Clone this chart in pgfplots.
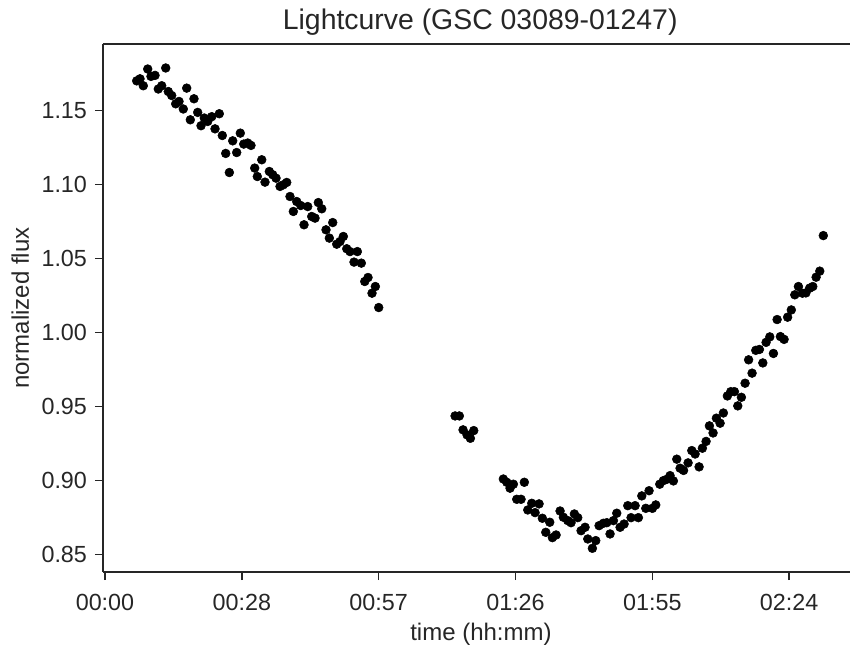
\documentclass[border=0pt]{standalone}
\usepackage{pgfplots}
\pgfplotsset{compat=1.18}
\usepackage{fontspec}
\setmainfont{Liberation Sans}
\definecolor{ink}{gray}{0.15}
\begin{document}
\begin{tikzpicture}
\begin{axis}[
  name=ax,
  scale only axis,
  width=560.25pt, height=396pt,
  xmin=-0.42, xmax=156.8,
  ymin=0.8383, ymax=1.1949,
  axis x line*=bottom, axis y line*=left,
  axis line style={-, line width=1.4pt, color=ink},
  tick style={line width=1.1pt, color=ink},
  tick align=outside, major tick length=6pt,
  xtick={0,28.8,57.6,86.4,115.2,144},
  xticklabels={00:00,00:28,00:57,01:26,01:55,02:24},
  ytick={0.85,0.90,0.95,1.00,1.05,1.10,1.15},
  yticklabel style={/pgf/number format/fixed,/pgf/number format/fixed zerofill,/pgf/number format/precision=2, xshift=-2.5pt},
  xticklabel style={yshift=-7pt},
  /pgf/number format/assume math mode=true,
  ticklabel style={font=\fontsize{17.5}{20}\selectfont, text=ink},
  xlabel={time (hh:mm)}, ylabel={normalized flux},
  label style={font=\fontsize{18}{21}\selectfont, text=ink},
  xlabel style={at={(axis description cs:0.506,0)}, anchor=base, yshift=-51pt},
  ylabel style={at={(axis description cs:-0.1108,0.5)}, anchor=center},
  title={Lightcurve (GSC 03089-01247)},
  title style={font=\fontsize{21.3}{24}\selectfont, text=ink, at={(axis description cs:0.505,1)}, anchor=base, yshift=4.5pt},
  clip=false,
]
\addplot[only marks, mark=*, mark size=3.3pt, color=black] table {
x y
6.67 1.1700
7.37 1.1714
8.06 1.1667
8.99 1.1780
9.68 1.1730
10.53 1.1737
11.22 1.1645
11.94 1.1667
12.78 1.1787
13.32 1.1628
14.04 1.1601
14.88 1.1545
15.58 1.1561
16.48 1.1510
17.20 1.1651
17.96 1.1437
18.73 1.1579
19.51 1.1487
20.21 1.1397
20.90 1.1449
21.62 1.1426
22.46 1.1458
23.16 1.1376
24.06 1.1478
24.69 1.1331
25.41 1.1210
26.17 1.1081
26.88 1.1295
27.72 1.1216
28.48 1.1347
29.20 1.1273
30.04 1.1280
30.73 1.1264
31.51 1.1111
32.06 1.1054
32.99 1.1167
33.68 1.1016
34.59 1.1088
35.30 1.1066
36.00 1.1043
36.84 1.0987
37.53 1.0998
38.25 1.1014
38.94 1.0919
39.64 1.0818
40.35 1.0885
41.20 1.0858
41.89 1.0728
42.67 1.0851
43.51 1.0784
44.21 1.0773
44.90 1.0878
45.62 1.0836
46.52 1.0694
47.22 1.0638
47.93 1.0743
48.77 1.0597
49.47 1.0615
50.16 1.0649
50.88 1.0566
51.57 1.0547
52.41 1.0476
53.11 1.0547
53.95 1.0469
54.67 1.0345
55.36 1.0372
56.20 1.0266
56.90 1.0311
57.61 1.0169
73.68 0.9437
74.58 0.9437
75.36 0.9343
76.20 0.9309
76.90 0.9286
77.61 0.9338
83.84 0.9011
84.56 0.8989
85.25 0.8949
85.95 0.8976
86.66 0.8874
87.57 0.8874
88.26 0.8989
88.98 0.8802
89.82 0.8847
90.52 0.8784
91.36 0.8843
92.05 0.8746
92.77 0.8651
93.61 0.8719
94.16 0.8615
94.94 0.8633
95.78 0.8795
96.47 0.8753
97.40 0.8730
98.09 0.8716
98.79 0.8775
99.50 0.8750
100.20 0.8662
101.04 0.8685
101.61 0.8606
102.58 0.8543
103.29 0.8595
103.99 0.8696
104.89 0.8712
105.61 0.8716
106.30 0.8640
107.00 0.8730
107.71 0.8780
108.41 0.8685
109.25 0.8707
110.03 0.8831
110.72 0.8750
111.57 0.8831
112.26 0.8750
112.98 0.8897
113.82 0.8813
114.51 0.8932
115.21 0.8813
115.92 0.8836
116.76 0.8976
117.52 0.9000
118.24 0.9009
118.93 0.9034
119.63 0.8998
120.34 0.9145
121.04 0.9084
121.77 0.9069
122.72 0.9120
123.50 0.9203
124.20 0.9180
125.04 0.9093
125.73 0.9219
126.51 0.9265
127.21 0.9370
127.98 0.9322
128.68 0.9422
129.46 0.9388
130.15 0.9457
130.99 0.9572
131.71 0.9601
132.47 0.9601
133.18 0.9505
133.94 0.9563
134.72 0.9658
135.46 0.9816
136.19 0.9726
136.97 0.9880
137.73 0.9886
138.45 0.9795
139.14 0.9934
139.92 0.9971
140.68 0.9859
141.46 1.0088
142.15 0.9973
142.93 0.9954
143.67 1.0104
144.45 1.0153
145.18 1.0255
145.94 1.0311
146.78 1.0266
147.52 1.0268
148.30 1.0300
148.97 1.0311
149.67 1.0374
150.44 1.0415
151.18 1.0655
};
\draw[line width=1.4pt, color=ink] (rel axis cs:0,1) -- (rel axis cs:1,1);
\end{axis}
\pgfresetboundingbox
\path[use as bounding box] ([shift={(-77.25pt,-55.5pt)}]ax.south west) rectangle ([shift={(0pt,33pt)}]ax.north east);
\end{tikzpicture}
\end{document}
